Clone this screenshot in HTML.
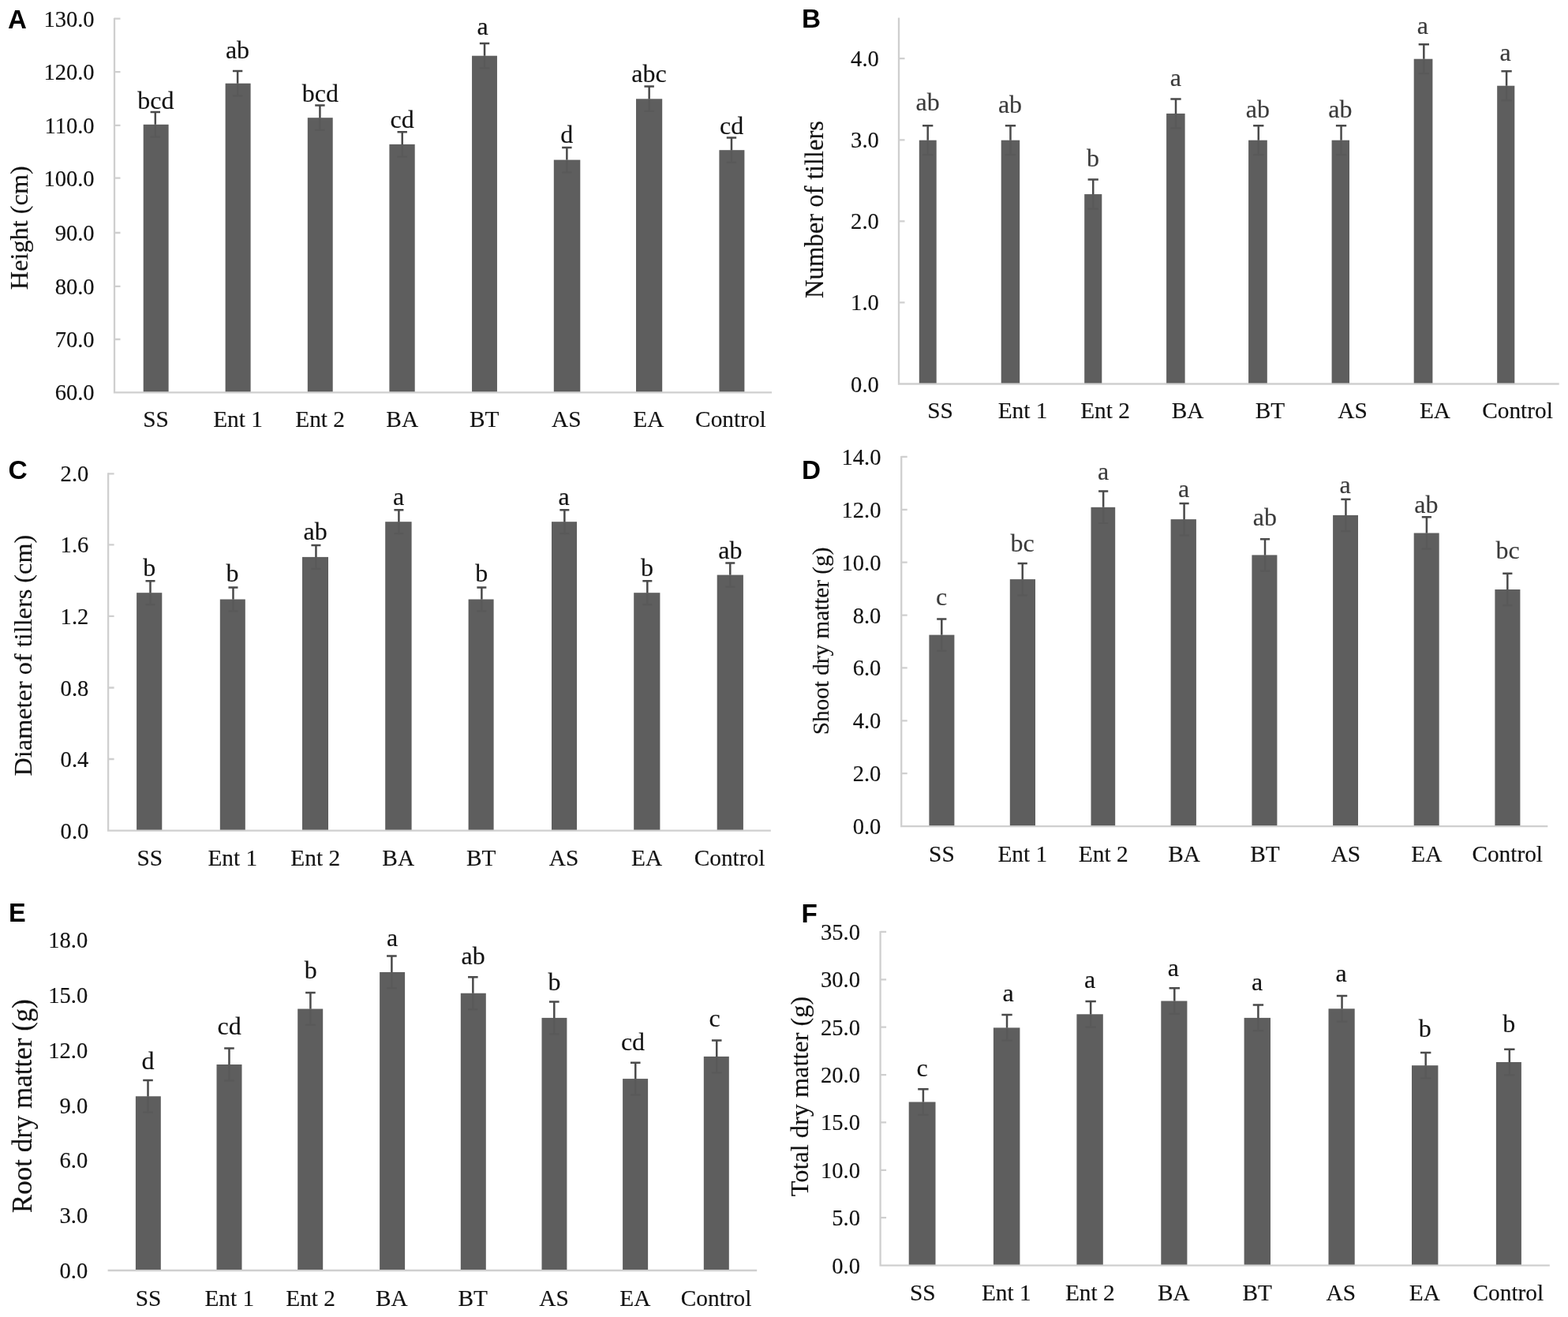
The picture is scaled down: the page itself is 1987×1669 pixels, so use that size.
<!DOCTYPE html>
<html lang="en"><head><meta charset="utf-8">
<title>Plant growth parameters by treatment</title>
<style>
html,body{margin:0;padding:0;background:#fff;}
body{width:1987px;height:1669px;overflow:hidden;}
svg{display:block;filter:blur(0.45px);}
text{font-family:"Liberation Serif","DejaVu Serif",serif;fill:#111;stroke:#111;stroke-width:0.15px;}
.pl{font-family:"Liberation Sans","DejaVu Sans",sans-serif;font-weight:700;fill:#000;stroke:none;}
.ax{stroke:#cfcfcf;stroke-width:2.3;fill:none;}
.bar{fill:#5e5e5e;}
.eb{stroke:#4a4a4a;stroke-width:2.5;fill:none;}
.eb2{stroke:#595959;stroke-width:2.2;fill:none;}
.tk{text-anchor:end;}
.c{text-anchor:middle;}
</style></head><body>
<svg width="1987" height="1669" viewBox="0 0 1987 1669">
<rect x="0" y="0" width="1987" height="1669" fill="#fff"/>
<g id="panel-A">
<path class="ax" d="M145 22.7 V497.3 H978"/>
<path class="ax" d="M145 23.7h7.5M145 91.2h7.5M145 158.8h7.5M145 225.7h7.5M145 295h7.5M145 362.8h7.5M145 430h7.5"/>
<rect class="bar" x="181.7" y="157.8" width="31.9" height="338.5"/>
<rect class="bar" x="285.6" y="105.7" width="32" height="390.6"/>
<rect class="bar" x="389.8" y="149.2" width="31.9" height="347.1"/>
<rect class="bar" x="493.4" y="182.9" width="32.3" height="313.4"/>
<rect class="bar" x="598.05" y="70.7" width="31.9" height="425.6"/>
<rect class="bar" x="701.8" y="202.6" width="33.5" height="293.7"/>
<rect class="bar" x="806" y="125.3" width="33.2" height="371"/>
<rect class="bar" x="911.4" y="190.2" width="32" height="306.1"/>
<path class="eb" d="M190.6 142.1h12.4M196.8 142.1v15.7M294.91 90h12.4M301.11 90v15.7M399.22 133.5h12.4M405.42 133.5v15.7M503.53 167.2h12.4M509.73 167.2v15.7M607.84 55h12.4M614.04 55v15.7M712.15 186.9h12.4M718.35 186.9v15.7M816.46 109.6h12.4M822.66 109.6v15.7M920.77 174.5h12.4M926.97 174.5v15.7"/>
<path class="eb2" d="M196.8 157.8v15.7M190.6 173.5h12.4M301.11 105.7v15.7M294.91 121.4h12.4M405.42 149.2v15.7M399.22 164.9h12.4M509.73 182.9v15.7M503.53 198.6h12.4M614.04 70.7v15.7M607.84 86.4h12.4M718.35 202.6v15.7M712.15 218.3h12.4M822.66 125.3v15.7M816.46 141h12.4M926.97 190.2v15.7M920.77 205.9h12.4"/>
<g class="tk" font-size="30">
<text transform="translate(119.6 33.7) scale(0.952 1)">130.0</text>
<text transform="translate(119.6 101.2) scale(0.952 1)">120.0</text>
<text transform="translate(119.6 168.8) scale(0.952 1)">110.0</text>
<text transform="translate(119.6 235.7) scale(0.952 1)">100.0</text>
<text transform="translate(119.6 305) scale(0.952 1)">90.0</text>
<text transform="translate(119.6 372.8) scale(0.952 1)">80.0</text>
<text transform="translate(119.6 440) scale(0.952 1)">70.0</text>
<text transform="translate(119.6 506.9) scale(0.952 1)">60.0</text>
</g>
<g class="c" font-size="30">
<text transform="translate(197.5 541.3) scale(0.978 1)">SS</text>
<text transform="translate(301.56 541.3) scale(0.978 1)">Ent 1</text>
<text transform="translate(405.62 541.3) scale(0.978 1)">Ent 2</text>
<text transform="translate(509.68 541.3) scale(0.978 1)">BA</text>
<text transform="translate(613.74 541.3) scale(0.978 1)">BT</text>
<text transform="translate(717.8 541.3) scale(0.978 1)">AS</text>
<text transform="translate(821.86 541.3) scale(0.978 1)">EA</text>
<text transform="translate(925.92 541.3) scale(0.978 1)">Control</text>
</g>
<g class="c" font-size="31.2" style="fill:#111">
<text transform="translate(197.4 137.7) scale(1.025 1)" style="fill:#111;stroke:#111">bcd</text>
<text transform="translate(301 74.3) scale(1.025 1)" style="fill:#111;stroke:#111">ab</text>
<text transform="translate(405.8 128.9) scale(1.025 1)" style="fill:#111;stroke:#111">bcd</text>
<text transform="translate(509.6 161.6) scale(1.025 1)" style="fill:#111;stroke:#111">cd</text>
<text transform="translate(611.5 43.9) scale(1.025 1)" style="fill:#111;stroke:#111">a</text>
<text transform="translate(718.3 181.3) scale(1.025 1)" style="fill:#111;stroke:#111">d</text>
<text transform="translate(822.4 104.3) scale(1.025 1)" style="fill:#111;stroke:#111">abc</text>
<text transform="translate(927.2 169.7) scale(1.025 1)" style="fill:#111;stroke:#111">cd</text>
</g>
<text class="c" font-size="32.3" transform="translate(35.4 288.7) rotate(-90) scale(1 1)">Height (cm)</text>
<text class="pl" font-size="33" x="10.1" y="35.9">A</text>
</g>
<g id="panel-B">
<path class="ax" d="M1139 22.5 V486.5 H1975.7"/>
<path class="ax" d="M1139 74.2h7.5M1139 177.3h7.5M1139 280.4h7.5M1139 383.4h7.5"/>
<rect class="bar" x="1164.8" y="177.7" width="21.9" height="307.8"/>
<rect class="bar" x="1268.7" y="177.7" width="23.5" height="307.8"/>
<rect class="bar" x="1374.2" y="246.1" width="22.1" height="239.4"/>
<rect class="bar" x="1478.1" y="143.9" width="23.5" height="341.6"/>
<rect class="bar" x="1582.1" y="177.7" width="23.7" height="307.8"/>
<rect class="bar" x="1687.6" y="177.7" width="22.4" height="307.8"/>
<rect class="bar" x="1791.7" y="74.7" width="23.7" height="410.8"/>
<rect class="bar" x="1897.2" y="108.7" width="22.1" height="376.8"/>
<path class="eb" d="M1169.05 159.2h13.3M1175.7 159.2v18.5M1273.82 159.2h13.3M1280.47 159.2v18.5M1378.59 227.6h13.3M1385.24 227.6v18.5M1483.36 125.4h13.3M1490.01 125.4v18.5M1588.13 159.2h13.3M1594.78 159.2v18.5M1692.9 159.2h13.3M1699.55 159.2v18.5M1797.67 56.2h13.3M1804.32 56.2v18.5M1902.44 90.2h13.3M1909.09 90.2v18.5"/>
<path class="eb2" d="M1175.7 177.7v18.5M1169.05 196.2h13.3M1280.47 177.7v18.5M1273.82 196.2h13.3M1385.24 246.1v18.5M1378.59 264.6h13.3M1490.01 143.9v18.5M1483.36 162.4h13.3M1594.78 177.7v18.5M1588.13 196.2h13.3M1699.55 177.7v18.5M1692.9 196.2h13.3M1804.32 74.7v18.5M1797.67 93.2h13.3M1909.09 108.7v18.5M1902.44 127.2h13.3"/>
<g class="tk" font-size="30">
<text transform="translate(1113.8 84.2) scale(0.952 1)">4.0</text>
<text transform="translate(1113.8 187.3) scale(0.952 1)">3.0</text>
<text transform="translate(1113.8 290.4) scale(0.952 1)">2.0</text>
<text transform="translate(1113.8 393.4) scale(0.952 1)">1.0</text>
<text transform="translate(1113.8 496.5) scale(0.952 1)">0.0</text>
</g>
<g class="c" font-size="30">
<text transform="translate(1191.5 529.9) scale(0.978 1)">SS</text>
<text transform="translate(1296 529.9) scale(0.978 1)">Ent 1</text>
<text transform="translate(1400.5 529.9) scale(0.978 1)">Ent 2</text>
<text transform="translate(1505 529.9) scale(0.978 1)">BA</text>
<text transform="translate(1609.5 529.9) scale(0.978 1)">BT</text>
<text transform="translate(1714 529.9) scale(0.978 1)">AS</text>
<text transform="translate(1818.5 529.9) scale(0.978 1)">EA</text>
<text transform="translate(1923 529.9) scale(0.978 1)">Control</text>
</g>
<g class="c" font-size="31.2" style="fill:#3a3a3a">
<text transform="translate(1175.6 139.8) scale(1.025 1)" style="fill:#3a3a3a;stroke:#3a3a3a">ab</text>
<text transform="translate(1280 143) scale(1.025 1)" style="fill:#3a3a3a;stroke:#3a3a3a">ab</text>
<text transform="translate(1385 211) scale(1.025 1)" style="fill:#3a3a3a;stroke:#3a3a3a">b</text>
<text transform="translate(1489.8 108.8) scale(1.025 1)" style="fill:#3a3a3a;stroke:#3a3a3a">a</text>
<text transform="translate(1593.9 148.6) scale(1.025 1)" style="fill:#3a3a3a;stroke:#3a3a3a">ab</text>
<text transform="translate(1698.4 148.6) scale(1.025 1)" style="fill:#3a3a3a;stroke:#3a3a3a">ab</text>
<text transform="translate(1802.8 43.4) scale(1.025 1)" style="fill:#3a3a3a;stroke:#3a3a3a">a</text>
<text transform="translate(1907.7 76.8) scale(1.025 1)" style="fill:#3a3a3a;stroke:#3a3a3a">a</text>
</g>
<text class="c" font-size="32.7" transform="translate(1043.3 265.5) rotate(-90) scale(1 1)">Number of tillers</text>
<text class="pl" font-size="33.3" x="1015.9" y="35.2">B</text>
</g>
<g id="panel-C">
<path class="ax" d="M137.1 599.3 V1052.6 H976.8"/>
<path class="ax" d="M137.1 600.3h7.5M137.1 690.4h7.5M137.1 780.9h7.5M137.1 871.5h7.5M137.1 962h7.5"/>
<rect class="bar" x="173.1" y="751.2" width="32.2" height="300.4"/>
<rect class="bar" x="278.8" y="759.5" width="32" height="292.1"/>
<rect class="bar" x="383" y="705.9" width="33" height="345.7"/>
<rect class="bar" x="488.2" y="661.2" width="33.4" height="390.4"/>
<rect class="bar" x="593.6" y="759.5" width="32" height="292.1"/>
<rect class="bar" x="699" y="661.2" width="32" height="390.4"/>
<rect class="bar" x="803.2" y="751.2" width="33.2" height="300.4"/>
<rect class="bar" x="908.7" y="728.6" width="33.2" height="323"/>
<path class="eb" d="M184.5 736.2h12M190.5 736.2v15M289.47 744.5h12M295.47 744.5v15M394.44 690.9h12M400.44 690.9v15M499.41 646.2h12M505.41 646.2v15M604.38 744.5h12M610.38 744.5v15M709.35 646.2h12M715.35 646.2v15M814.32 736.2h12M820.32 736.2v15M919.29 713.6h12M925.29 713.6v15"/>
<path class="eb2" d="M190.5 751.2v15M184.5 766.2h12M295.47 759.5v15M289.47 774.5h12M400.44 705.9v15M394.44 720.9h12M505.41 661.2v15M499.41 676.2h12M610.38 759.5v15M604.38 774.5h12M715.35 661.2v15M709.35 676.2h12M820.32 751.2v15M814.32 766.2h12M925.29 728.6v15M919.29 743.6h12"/>
<g class="tk" font-size="30">
<text transform="translate(112.3 610.3) scale(0.952 1)">2.0</text>
<text transform="translate(112.3 700.4) scale(0.952 1)">1.6</text>
<text transform="translate(112.3 790.9) scale(0.952 1)">1.2</text>
<text transform="translate(112.3 881.5) scale(0.952 1)">0.8</text>
<text transform="translate(112.3 972) scale(0.952 1)">0.4</text>
<text transform="translate(112.3 1062.6) scale(0.952 1)">0.0</text>
</g>
<g class="c" font-size="30">
<text transform="translate(189.8 1096.7) scale(0.978 1)">SS</text>
<text transform="translate(294.76 1096.7) scale(0.978 1)">Ent 1</text>
<text transform="translate(399.72 1096.7) scale(0.978 1)">Ent 2</text>
<text transform="translate(504.68 1096.7) scale(0.978 1)">BA</text>
<text transform="translate(609.64 1096.7) scale(0.978 1)">BT</text>
<text transform="translate(714.6 1096.7) scale(0.978 1)">AS</text>
<text transform="translate(819.56 1096.7) scale(0.978 1)">EA</text>
<text transform="translate(924.52 1096.7) scale(0.978 1)">Control</text>
</g>
<g class="c" font-size="31.2" style="fill:#111">
<text transform="translate(189.2 730.4) scale(1.025 1)" style="fill:#111;stroke:#111">b</text>
<text transform="translate(294.4 737.4) scale(1.025 1)" style="fill:#111;stroke:#111">b</text>
<text transform="translate(399.6 684.3) scale(1.025 1)" style="fill:#111;stroke:#111">ab</text>
<text transform="translate(505 639.8) scale(1.025 1)" style="fill:#111;stroke:#111">a</text>
<text transform="translate(610.2 737.4) scale(1.025 1)" style="fill:#111;stroke:#111">b</text>
<text transform="translate(714.6 639.8) scale(1.025 1)" style="fill:#111;stroke:#111">a</text>
<text transform="translate(820 730.4) scale(1.025 1)" style="fill:#111;stroke:#111">b</text>
<text transform="translate(925.3 707.7) scale(1.025 1)" style="fill:#111;stroke:#111">ab</text>
</g>
<text class="c" font-size="32.3" transform="translate(40.4 830.6) rotate(-90) scale(1 1)">Diameter of tillers (cm)</text>
<text class="pl" font-size="33.5" x="10.6" y="607">C</text>
</g>
<g id="panel-D">
<path class="ax" d="M1142.2 577.9 V1047.1 H1961.3"/>
<path class="ax" d="M1142.2 578.9h7.5M1142.2 645.8h7.5M1142.2 712.7h7.5M1142.2 779.6h7.5M1142.2 846.4h7.5M1142.2 913.3h7.5M1142.2 980.2h7.5"/>
<rect class="bar" x="1177.4" y="804.6" width="32" height="241.5"/>
<rect class="bar" x="1279.8" y="734.1" width="32.2" height="312"/>
<rect class="bar" x="1382.5" y="642.8" width="30.7" height="403.3"/>
<rect class="bar" x="1483.6" y="658.1" width="32.3" height="388"/>
<rect class="bar" x="1586.4" y="703.4" width="32" height="342.7"/>
<rect class="bar" x="1689.1" y="652.9" width="31.9" height="393.2"/>
<rect class="bar" x="1791.7" y="675.5" width="32" height="370.6"/>
<rect class="bar" x="1894.4" y="747" width="32" height="299.1"/>
<path class="eb" d="M1187.2 784.4h12.2M1193.3 784.4v20.2M1289.63 713.9h12.2M1295.73 713.9v20.2M1392.06 622.6h12.2M1398.16 622.6v20.2M1494.49 637.9h12.2M1500.59 637.9v20.2M1596.92 683.2h12.2M1603.02 683.2v20.2M1699.35 632.7h12.2M1705.45 632.7v20.2M1801.78 655.3h12.2M1807.88 655.3v20.2M1904.21 726.8h12.2M1910.31 726.8v20.2"/>
<path class="eb2" d="M1193.3 804.6v20.2M1187.2 824.8h12.2M1295.73 734.1v20.2M1289.63 754.3h12.2M1398.16 642.8v20.2M1392.06 663h12.2M1500.59 658.1v20.2M1494.49 678.3h12.2M1603.02 703.4v20.2M1596.92 723.6h12.2M1705.45 652.9v20.2M1699.35 673.1h12.2M1807.88 675.5v20.2M1801.78 695.7h12.2M1910.31 747v20.2M1904.21 767.2h12.2"/>
<g class="tk" font-size="30">
<text transform="translate(1116.4 588.9) scale(0.952 1)">14.0</text>
<text transform="translate(1116.4 655.8) scale(0.952 1)">12.0</text>
<text transform="translate(1116.4 722.7) scale(0.952 1)">10.0</text>
<text transform="translate(1116.4 789.6) scale(0.952 1)">8.0</text>
<text transform="translate(1116.4 856.4) scale(0.952 1)">6.0</text>
<text transform="translate(1116.4 923.3) scale(0.952 1)">4.0</text>
<text transform="translate(1116.4 990.2) scale(0.952 1)">2.0</text>
<text transform="translate(1116.4 1057.1) scale(0.952 1)">0.0</text>
</g>
<g class="c" font-size="30">
<text transform="translate(1193.4 1091.6) scale(0.978 1)">SS</text>
<text transform="translate(1295.8 1091.6) scale(0.978 1)">Ent 1</text>
<text transform="translate(1398.2 1091.6) scale(0.978 1)">Ent 2</text>
<text transform="translate(1500.6 1091.6) scale(0.978 1)">BA</text>
<text transform="translate(1603 1091.6) scale(0.978 1)">BT</text>
<text transform="translate(1705.4 1091.6) scale(0.978 1)">AS</text>
<text transform="translate(1807.8 1091.6) scale(0.978 1)">EA</text>
<text transform="translate(1910.2 1091.6) scale(0.978 1)">Control</text>
</g>
<g class="c" font-size="31.2" style="fill:#3a3a3a">
<text transform="translate(1193 766.6) scale(1.025 1)" style="fill:#3a3a3a;stroke:#3a3a3a">c</text>
<text transform="translate(1295.7 699.2) scale(1.025 1)" style="fill:#3a3a3a;stroke:#3a3a3a">bc</text>
<text transform="translate(1398.1 608.1) scale(1.025 1)" style="fill:#3a3a3a;stroke:#3a3a3a">a</text>
<text transform="translate(1500.1 629.5) scale(1.025 1)" style="fill:#3a3a3a;stroke:#3a3a3a">a</text>
<text transform="translate(1602.8 666) scale(1.025 1)" style="fill:#3a3a3a;stroke:#3a3a3a">ab</text>
<text transform="translate(1704.7 625.2) scale(1.025 1)" style="fill:#3a3a3a;stroke:#3a3a3a">a</text>
<text transform="translate(1807.3 649.6) scale(1.025 1)" style="fill:#3a3a3a;stroke:#3a3a3a">ab</text>
<text transform="translate(1910.5 707.5) scale(1.025 1)" style="fill:#3a3a3a;stroke:#3a3a3a">bc</text>
</g>
<text class="c" font-size="29.2" transform="translate(1050.2 812.4) rotate(-90) scale(1 1)">Shoot dry matter (g)</text>
<text class="pl" font-size="33.3" x="1016" y="606.8">D</text>
</g>
<g id="panel-E">
<path class="ax" d="M136.6 1610 H959.2"/>
<rect class="bar" x="171.9" y="1389.3" width="31.9" height="219.7"/>
<rect class="bar" x="274.5" y="1349" width="32" height="260"/>
<rect class="bar" x="377.2" y="1278.5" width="32" height="330.5"/>
<rect class="bar" x="481.1" y="1232" width="32" height="377"/>
<rect class="bar" x="583.8" y="1258.7" width="32" height="350.3"/>
<rect class="bar" x="686.5" y="1289.9" width="31.9" height="319.1"/>
<rect class="bar" x="789.1" y="1367.1" width="32" height="241.9"/>
<rect class="bar" x="891.8" y="1338.9" width="32" height="270.1"/>
<path class="eb" d="M181.2 1368.9h12.6M187.5 1368.9v20.4M284.16 1328.6h12.6M290.46 1328.6v20.4M387.12 1258.1h12.6M393.42 1258.1v20.4M490.08 1211.6h12.6M496.38 1211.6v20.4M593.04 1238.3h12.6M599.34 1238.3v20.4M696 1269.5h12.6M702.3 1269.5v20.4M798.96 1346.7h12.6M805.26 1346.7v20.4M901.92 1318.5h12.6M908.22 1318.5v20.4"/>
<path class="eb2" d="M187.5 1389.3v20.4M181.2 1409.7h12.6M290.46 1349v20.4M284.16 1369.4h12.6M393.42 1278.5v20.4M387.12 1298.9h12.6M496.38 1232v20.4M490.08 1252.4h12.6M599.34 1258.7v20.4M593.04 1279.1h12.6M702.3 1289.9v20.4M696 1310.3h12.6M805.26 1367.1v20.4M798.96 1387.5h12.6M908.22 1338.9v20.4M901.92 1359.3h12.6"/>
<g class="tk" font-size="30">
<text transform="translate(111.2 1201.2) scale(0.952 1)">18.0</text>
<text transform="translate(111.2 1271) scale(0.952 1)">15.0</text>
<text transform="translate(111.2 1340.8) scale(0.952 1)">12.0</text>
<text transform="translate(111.2 1410.6) scale(0.952 1)">9.0</text>
<text transform="translate(111.2 1480.4) scale(0.952 1)">6.0</text>
<text transform="translate(111.2 1550.2) scale(0.952 1)">3.0</text>
<text transform="translate(111.2 1620) scale(0.952 1)">0.0</text>
</g>
<g class="c" font-size="30">
<text transform="translate(188 1654.5) scale(0.978 1)">SS</text>
<text transform="translate(290.8 1654.5) scale(0.978 1)">Ent 1</text>
<text transform="translate(393.6 1654.5) scale(0.978 1)">Ent 2</text>
<text transform="translate(496.4 1654.5) scale(0.978 1)">BA</text>
<text transform="translate(599.2 1654.5) scale(0.978 1)">BT</text>
<text transform="translate(702 1654.5) scale(0.978 1)">AS</text>
<text transform="translate(804.8 1654.5) scale(0.978 1)">EA</text>
<text transform="translate(907.6 1654.5) scale(0.978 1)">Control</text>
</g>
<g class="c" font-size="31.2" style="fill:#111">
<text transform="translate(187.5 1354.8) scale(1.025 1)" style="fill:#111;stroke:#111">d</text>
<text transform="translate(290.6 1310.7) scale(1.025 1)" style="fill:#111;stroke:#111">cd</text>
<text transform="translate(393.8 1240.3) scale(1.025 1)" style="fill:#111;stroke:#111">b</text>
<text transform="translate(497 1198.5) scale(1.025 1)" style="fill:#111;stroke:#111">a</text>
<text transform="translate(599.6 1222.4) scale(1.025 1)" style="fill:#111;stroke:#111">ab</text>
<text transform="translate(702.6 1254.6) scale(1.025 1)" style="fill:#111;stroke:#111">b</text>
<text transform="translate(802 1330.6) scale(1.025 1)" style="fill:#111;stroke:#111">cd</text>
<text transform="translate(905.6 1301.2) scale(1.025 1)" style="fill:#111;stroke:#111">c</text>
</g>
<text class="c" font-size="35" transform="translate(40.2 1401.6) rotate(-90) scale(1 1)">Root dry matter (g)</text>
<text class="pl" font-size="32.5" x="11" y="1168.3">E</text>
</g>
<g id="panel-F">
<path class="ax" d="M1115.6 1179.9 V1603.6 H1963.8"/>
<path class="ax" d="M1115.6 1180.9h7.5M1115.6 1241.3h7.5M1115.6 1301.7h7.5M1115.6 1362.1h7.5M1115.6 1422.4h7.5M1115.6 1482.8h7.5M1115.6 1543.2h7.5"/>
<rect class="bar" x="1151.7" y="1396.5" width="33.8" height="206.1"/>
<rect class="bar" x="1258.9" y="1302.4" width="33.5" height="300.2"/>
<rect class="bar" x="1364.4" y="1285.3" width="33.4" height="317.3"/>
<rect class="bar" x="1471.3" y="1268.5" width="33.1" height="334.1"/>
<rect class="bar" x="1576.6" y="1289.9" width="33.4" height="312.7"/>
<rect class="bar" x="1683.5" y="1278.3" width="33.2" height="324.3"/>
<rect class="bar" x="1789" y="1350.2" width="33.4" height="252.4"/>
<rect class="bar" x="1895.9" y="1346" width="32" height="256.6"/>
<path class="eb" d="M1163.2 1380.2h13.4M1169.9 1380.2v16.3M1269.33 1286.1h13.4M1276.03 1286.1v16.3M1375.46 1269h13.4M1382.16 1269v16.3M1481.59 1252.2h13.4M1488.29 1252.2v16.3M1587.72 1273.6h13.4M1594.42 1273.6v16.3M1693.85 1262h13.4M1700.55 1262v16.3M1799.98 1333.9h13.4M1806.68 1333.9v16.3M1906.11 1329.7h13.4M1912.81 1329.7v16.3"/>
<path class="eb2" d="M1169.9 1396.5v16.3M1163.2 1412.8h13.4M1276.03 1302.4v16.3M1269.33 1318.7h13.4M1382.16 1285.3v16.3M1375.46 1301.6h13.4M1488.29 1268.5v16.3M1481.59 1284.8h13.4M1594.42 1289.9v16.3M1587.72 1306.2h13.4M1700.55 1278.3v16.3M1693.85 1294.6h13.4M1806.68 1350.2v16.3M1799.98 1366.5h13.4M1912.81 1346v16.3M1906.11 1362.3h13.4"/>
<g class="tk" font-size="30">
<text transform="translate(1090 1190.9) scale(0.952 1)">35.0</text>
<text transform="translate(1090 1251.3) scale(0.952 1)">30.0</text>
<text transform="translate(1090 1311.7) scale(0.952 1)">25.0</text>
<text transform="translate(1090 1372.1) scale(0.952 1)">20.0</text>
<text transform="translate(1090 1432.4) scale(0.952 1)">15.0</text>
<text transform="translate(1090 1492.8) scale(0.952 1)">10.0</text>
<text transform="translate(1090 1553.2) scale(0.952 1)">5.0</text>
<text transform="translate(1090 1613.6) scale(0.952 1)">0.0</text>
</g>
<g class="c" font-size="30">
<text transform="translate(1169.3 1647.7) scale(0.978 1)">SS</text>
<text transform="translate(1275.3 1647.7) scale(0.978 1)">Ent 1</text>
<text transform="translate(1381.3 1647.7) scale(0.978 1)">Ent 2</text>
<text transform="translate(1487.3 1647.7) scale(0.978 1)">BA</text>
<text transform="translate(1593.3 1647.7) scale(0.978 1)">BT</text>
<text transform="translate(1699.3 1647.7) scale(0.978 1)">AS</text>
<text transform="translate(1805.3 1647.7) scale(0.978 1)">EA</text>
<text transform="translate(1911.3 1647.7) scale(0.978 1)">Control</text>
</g>
<g class="c" font-size="31.2" style="fill:#111">
<text transform="translate(1168.6 1364.3) scale(1.025 1)" style="fill:#111;stroke:#111">c</text>
<text transform="translate(1277.6 1269.4) scale(1.025 1)" style="fill:#111;stroke:#111">a</text>
<text transform="translate(1381.2 1251.8) scale(1.025 1)" style="fill:#111;stroke:#111">a</text>
<text transform="translate(1486.9 1236.5) scale(1.025 1)" style="fill:#111;stroke:#111">a</text>
<text transform="translate(1593.2 1255.3) scale(1.025 1)" style="fill:#111;stroke:#111">a</text>
<text transform="translate(1699.6 1244) scale(1.025 1)" style="fill:#111;stroke:#111">a</text>
<text transform="translate(1805.8 1314) scale(1.025 1)" style="fill:#111;stroke:#111">b</text>
<text transform="translate(1912.3 1308.4) scale(1.025 1)" style="fill:#111;stroke:#111">b</text>
</g>
<text class="c" font-size="32.3" transform="translate(1023.8 1389.5) rotate(-90) scale(1 1)">Total dry matter (g)</text>
<text class="pl" font-size="33.3" x="1015.4" y="1168.6">F</text>
</g>
</svg>
</body></html>
